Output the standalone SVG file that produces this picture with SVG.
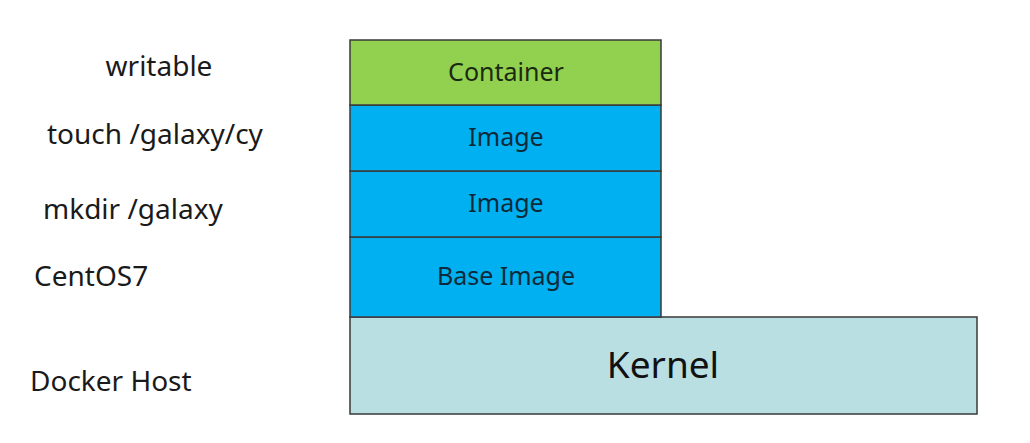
<svg xmlns="http://www.w3.org/2000/svg" width="1030" height="443" viewBox="0 0 1030 443">
<style>
.layer{stroke:#3a3a3a;stroke-width:1.5}
.lt{font-family:"Noto Sans","Open Sans",sans-serif;font-size:25px;fill:#0d2a3a;text-anchor:middle}
.side{font-family:"Noto Sans","Open Sans",sans-serif;font-size:28px;fill:#1a1a1a}
</style>
<rect width="1030" height="443" fill="#ffffff"/>
<g id="kernel">
<rect class="layer" x="350" y="317" width="627" height="97" fill="#b9dfe2"/>
<text class="lt" x="663" y="378" style="font-size:37px;fill:#111">Kernel</text>
</g>
<g id="base-image">
<rect class="layer" x="350" y="237" width="311" height="80" fill="#00b0f0"/>
<text class="lt" x="506" y="285">Base Image</text>
</g>
<g id="image2">
<rect class="layer" x="350" y="171" width="311" height="66" fill="#00b0f0"/>
<text class="lt" x="506" y="212">Image</text>
</g>
<g id="image1">
<rect class="layer" x="350" y="105" width="311" height="66" fill="#00b0f0"/>
<text class="lt" x="506" y="146">Image</text>
</g>
<g id="container">
<rect class="layer" x="350" y="40" width="311" height="65" fill="#92d050"/>
<text class="lt" x="506" y="81" style="fill:#1a2a10">Container</text>
</g>
<g id="labels">
<text class="side" x="159" y="76" text-anchor="middle">writable</text>
<text class="side" x="47" y="144">touch /galaxy/cy</text>
<text class="side" x="43" y="219">mkdir /galaxy</text>
<text class="side" x="34" y="286">CentOS7</text>
<text class="side" x="30" y="391">Docker Host</text>
</g>
<g id="connectors"/>
</svg>
